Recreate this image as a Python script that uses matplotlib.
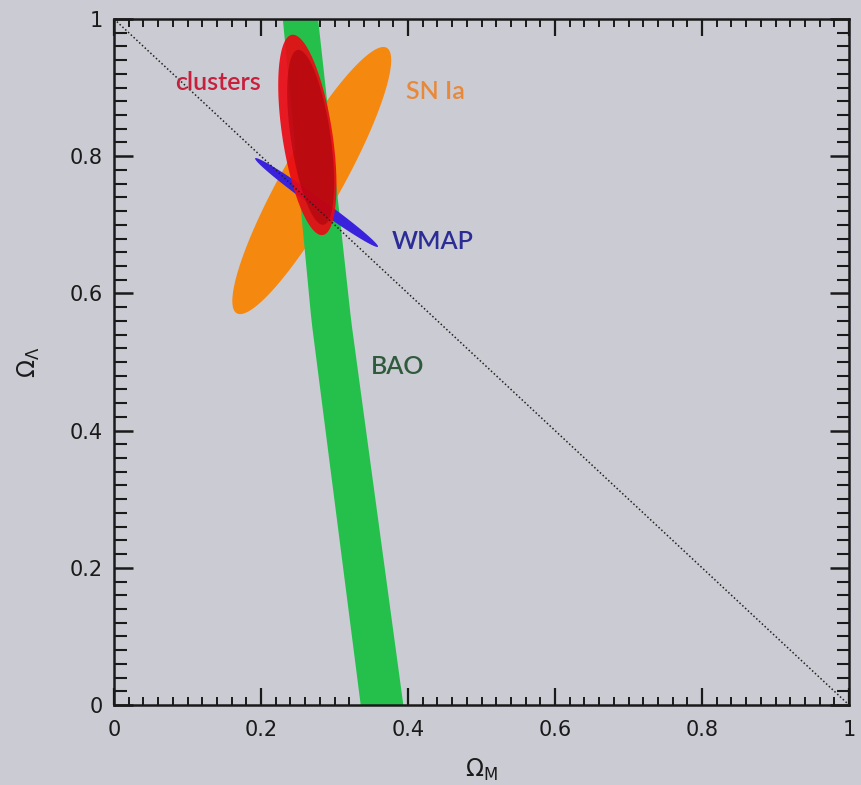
import numpy as np
import matplotlib.pyplot as plt
from matplotlib.patches import Polygon
from matplotlib.ticker import MultipleLocator

# contour shapes, data units: two tips of major axis + half-width (fraction of axis width)
sn_tips = [(0.167, 0.571), (0.371, 0.958)]
sn_hw = 0.041
cl_tips = [(0.242, 0.977), (0.284, 0.685)]
cl_hw = 0.034
cl_core_tips = [(0.250, 0.955), (0.285, 0.700)]
cl_core_hw = 0.027
wmap_tips = [(0.192, 0.797), (0.359, 0.668)]
wmap_hw = 0.0075

# BAO band: centre and width at a few Omega_Lambda values
bao_y = [1.0, 0.56, 0.0]
bao_x = [0.253, 0.295, 0.364]
bao_w = [0.048, 0.054, 0.058]

flat_x = [0, 1]
flat_y = [1, 0]

ticks = [0, 0.2, 0.4, 0.6, 0.8, 1]
tick_labels = ["0", "0.2", "0.4", "0.6", "0.8", "1"]

labels = ["clusters", "SN Ia", "WMAP", "BAO"]
label_pos = [(0.141, 0.907), (0.437, 0.894), (0.434, 0.676), (0.386, 0.493)]
label_col = ["#c8203c", "#e8893a", "#2c2c96", "#2f5a3c"]

BG = "#cbcbd3"
W_PX, H_PX = 735.0, 686.0  # axes size in pixels, for round ellipses


def ellipse_pts(tips, hw, n=200):
    (x1, y1), (x2, y2) = tips
    cx, cy = (x1 + x2) / 2, (y1 + y2) / 2
    ux, uy = (x2 - x1) / 2, (y2 - y1) / 2
    # perpendicular direction in pixel space, back to data units
    dx, dy = ux * W_PX, uy * H_PX
    L = np.hypot(dx, dy)
    px, py = -dy / L, dx / L
    vx, vy = px * hw, py * hw * W_PX / H_PX
    t = np.linspace(0, 2 * np.pi, n)
    return np.column_stack([cx + ux * np.cos(t) + vx * np.sin(t),
                            cy + uy * np.cos(t) + vy * np.sin(t)])


fig = plt.figure(figsize=(8.62, 7.85), dpi=100, facecolor=BG)
ax = fig.add_axes([0.1323, 0.1019, 0.8527, 0.8739], facecolor=BG)

ax.add_patch(Polygon(ellipse_pts(sn_tips, sn_hw), closed=True, fc="#f5880f", ec="none", zorder=1))

yy = np.linspace(0, 1, 50)
xc = np.interp(yy, bao_y[::-1], bao_x[::-1])
ww = np.interp(yy, bao_y[::-1], bao_w[::-1])
ax.fill_betweenx(yy, xc - ww / 2, xc + ww / 2, color="#25c04c", lw=0, zorder=2)

ax.add_patch(Polygon(ellipse_pts(wmap_tips, wmap_hw), closed=True, fc="#3a22dc", ec="none", zorder=3))

ax.add_patch(Polygon(ellipse_pts(cl_tips, cl_hw), closed=True, fc="#ea0a14", ec="none", alpha=0.92, zorder=4))
ax.add_patch(Polygon(ellipse_pts(cl_core_tips, cl_core_hw), closed=True, fc="#a0000a", ec="none", alpha=0.5, zorder=5))

ax.plot(flat_x, flat_y, ls=(0, (1, 1.5)), color="#222222", lw=1.1, zorder=6)

for lab, (x, y), c in zip(labels, label_pos, label_col):
    ax.text(x, y, lab, color=c, fontsize=18, family="Lato", fontweight="semibold",
            ha="center", va="center", zorder=7)

ax.set_xlim(0, 1)
ax.set_ylim(0, 1)
ax.set_xticks(ticks, tick_labels)
ax.set_yticks(ticks, tick_labels)
ax.xaxis.set_minor_locator(MultipleLocator(0.02))
ax.yaxis.set_minor_locator(MultipleLocator(0.02))
ax.tick_params(axis="x", which="major", direction="in", length=12, width=1.6,
               top=True, labelsize=15, pad=11, colors="#1a1a1a")
ax.tick_params(axis="x", which="minor", direction="in", length=6, width=1.4, top=True, colors="#1a1a1a")
ax.tick_params(axis="y", which="major", direction="in", length=14, width=1.8,
               right=True, labelsize=15, pad=8, colors="#1a1a1a")
ax.tick_params(axis="y", which="minor", direction="in", length=9, width=1.5, right=True, colors="#1a1a1a")
for s in ax.spines.values():
    s.set_linewidth(1.8)
    s.set_color("#1a1a1a")

ax.set_xlabel(r"$\Omega_{\rm M}$", fontsize=17, labelpad=12, color="#1a1a1a")
ax.set_ylabel(r"$\Omega_{\Lambda}$", fontsize=17, labelpad=20, color="#1a1a1a")

fig.savefig("out.png", dpi=100, facecolor=BG)
